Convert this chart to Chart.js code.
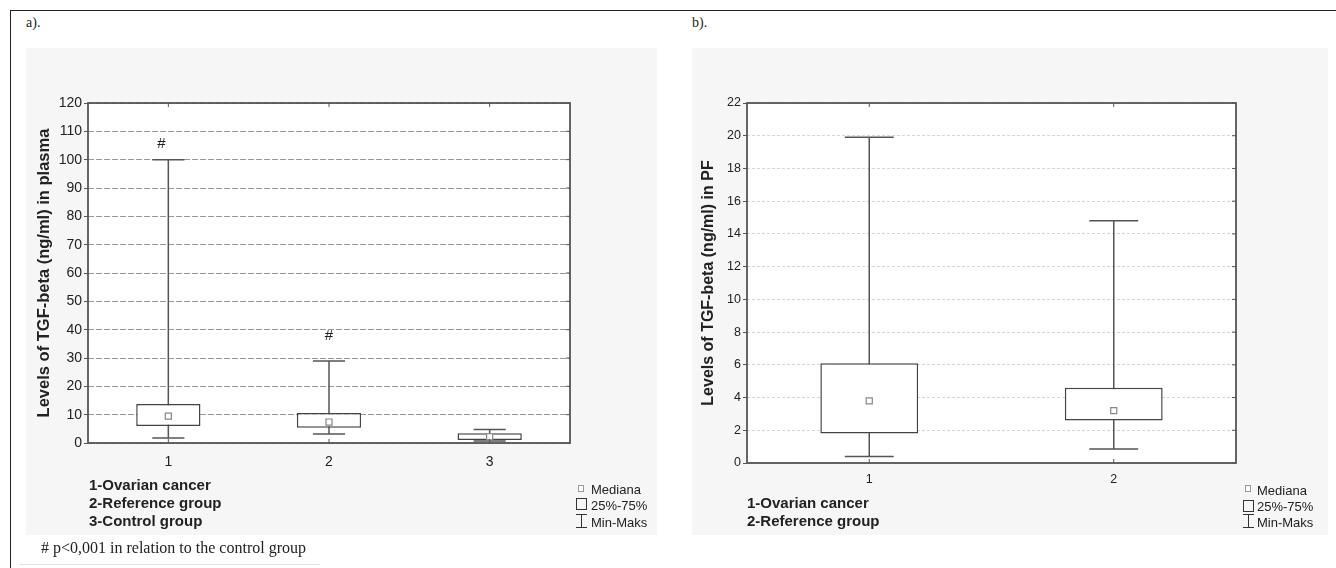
<!DOCTYPE html>
<html>
<head>
<meta charset="utf-8">
<script src="https://cdn.jsdelivr.net/npm/chart.js@4.4.1/dist/chart.umd.min.js"></script>
<style>
  body { margin: 0; width: 1336px; height: 568px; position: relative; overflow: hidden; background: #fff;
         font-family: "Liberation Sans", Arial, sans-serif; color: #222; }
  .abs { position: absolute; white-space: nowrap; }
  #frame { left: 10px; top: 10px; width: 1340px; height: 570px; border-top: 1.5px solid #222; border-left: 1.5px solid #222; }
  .panel { background: #f6f6f6; }
  .serif { font-family: "Liberation Serif", "Times New Roman", serif; }
  .grp { font-size: 15px; font-weight: bold; line-height: 15px; }
  .leg { font-size: 13px; line-height: 13px; }
  .med { width: 6px; height: 7px; box-sizing: border-box; border: 1px solid #999; background: #fff; }
  .iqr { width: 11px; height: 12px; box-sizing: border-box; border: 1.5px solid #333; }
  .rng { width: 11px; height: 14px; box-sizing: border-box; border-top: 1.5px solid #333; border-bottom: 1.5px solid #333; }
  .rng::after { content: ""; position: absolute; left: 4.75px; top: 0; width: 1.5px; height: 100%; background: #333; }
  canvas { position: absolute; }
</style>
</head>
<body>
<div id="frame" class="abs"></div>

<div class="abs serif" style="left:26px;top:16px;font-size:14px;line-height:14px">a).</div>
<div class="abs serif" style="left:692px;top:16px;font-size:14px;line-height:14px">b).</div>

<div class="abs panel" style="left:26px;top:48px;width:631px;height:487px"></div>
<div class="abs panel" style="left:692px;top:48px;width:636px;height:487px"></div>

<canvas id="chartA" width="631" height="487" style="left:26px;top:48px"></canvas>
<canvas id="chartB" width="636" height="487" style="left:692px;top:48px"></canvas>

<!-- group names, panel a -->
<div class="abs grp" style="left:89px;top:477px">1-Ovarian cancer</div>
<div class="abs grp" style="left:89px;top:495px">2-Reference group</div>
<div class="abs grp" style="left:89px;top:513px">3-Control group</div>
<!-- legend, panel a -->
<div class="abs med" style="left:578px;top:485px"></div>
<div class="abs iqr" style="left:576px;top:498px"></div>
<div class="abs rng" style="left:576px;top:514px"></div>
<div class="abs leg" style="left:591px;top:483px">Mediana</div>
<div class="abs leg" style="left:591px;top:499px">25%-75%</div>
<div class="abs leg" style="left:591px;top:516px">Min-Maks</div>

<!-- group names, panel b -->
<div class="abs grp" style="left:747px;top:495px">1-Ovarian cancer</div>
<div class="abs grp" style="left:747px;top:513px">2-Reference group</div>
<!-- legend, panel b -->
<div class="abs med" style="left:1245px;top:485px"></div>
<div class="abs iqr" style="left:1243px;top:500px"></div>
<div class="abs rng" style="left:1243px;top:514px"></div>
<div class="abs leg" style="left:1257px;top:484px">Mediana</div>
<div class="abs leg" style="left:1257px;top:500px">25%-75%</div>
<div class="abs leg" style="left:1257px;top:516px">Min-Maks</div>

<div class="abs serif" style="left:41px;top:540px;font-size:16px;line-height:16px"># p&lt;0,001 in relation to the control group</div>
<div class="abs" style="left:20px;top:564px;width:300px;height:1px;background:#e2e2e2"></div>

<script>
// panel a - plasma
const groupsA = ["1", "2", "3"];
const minA = [1.8, 3.2, 0.7];
const q1A = [6.0, 5.4, 1.1];
const medA = [9.5, 7.4, 2.2];
const q3A = [13.8, 10.6, 3.4];
const maxA = [100, 28.9, 4.8];
const marksA = ["#", "#", ""];

// panel b - peritoneal fluid
const groupsB = ["1", "2"];
const minB = [0.4, 0.85];
const q1B = [1.8, 2.6];
const medB = [3.8, 3.2];
const q3B = [6.1, 4.6];
const maxB = [19.9, 14.8];
const marksB = ["", ""];

const FONT = "'Liberation Sans', Arial, sans-serif";

// whiskers, plot background, frame and inner tick marks
const boxParts = {
  id: "boxParts",
  beforeDraw(chart) {
    const {ctx, chartArea: a} = chart;
    ctx.save();
    ctx.fillStyle = "#fff";
    ctx.fillRect(a.left, a.top, a.width, a.height);
    ctx.restore();
  },
  beforeDatasetsDraw(chart, args, opts) {
    const {ctx, chartArea: a, scales: {x, y}} = chart;
    const cap = a.width / opts.min.length * 0.2;
    ctx.save();
    ctx.strokeStyle = "#555";
    ctx.lineWidth = 1.5;
    opts.min.forEach((lo, i) => {
      const px = x.getPixelForValue(i);
      const top = y.getPixelForValue(opts.max[i]);
      const bot = y.getPixelForValue(lo);
      ctx.beginPath();
      ctx.moveTo(px, top); ctx.lineTo(px, bot);
      ctx.moveTo(px - cap / 2, top); ctx.lineTo(px + cap / 2, top);
      ctx.moveTo(px - cap / 2, bot); ctx.lineTo(px + cap / 2, bot);
      ctx.stroke();
      if (opts.marks[i]) {
        ctx.fillStyle = "#222";
        ctx.font = "15px " + FONT;
        ctx.textAlign = "center";
        ctx.textBaseline = "middle";
        ctx.fillText(opts.marks[i], px - (opts.markShift[i] || 0), top - opts.markLift[i]);
      }
    });
    ctx.restore();
  },
  afterDatasetsDraw(chart) {
    const {ctx, chartArea: a, scales: {x, y}} = chart;
    ctx.save();
    ctx.strokeStyle = "#555";
    ctx.lineWidth = 1;
    ctx.beginPath();
    x.ticks.forEach((t, i) => {
      const px = x.getPixelForTick(i);
      ctx.moveTo(px, a.top); ctx.lineTo(px, a.top + 4);
      ctx.moveTo(px, a.bottom); ctx.lineTo(px, a.bottom - 4);
    });
    y.ticks.forEach((t, i) => {
      const py = y.getPixelForTick(i);
      ctx.moveTo(a.right, py); ctx.lineTo(a.right - 4, py);
    });
    ctx.stroke();
    ctx.lineWidth = 1.8;
    ctx.strokeRect(a.left, a.top, a.width, a.height);
    ctx.restore();
  }
};

function boxChart(id, s) {
  return new Chart(document.getElementById(id), {
    data: {
      labels: s.labels,
      datasets: [
        {
          type: "line",
          data: s.med,
          showLine: false,
          pointStyle: "rect",
          pointRadius: 4.3,
          pointBackgroundColor: "#fff",
          pointBorderColor: "#888",
          pointBorderWidth: 1.2,
          order: 0
        },
        {
          type: "bar",
          data: s.q1.map((v, i) => [v, s.q3[i]]),
          backgroundColor: "#fff",
          borderColor: "#444",
          borderWidth: 1.5,
          borderSkipped: false,
          barPercentage: 0.4,
          categoryPercentage: 1,
          order: 1
        }
      ]
    },
    options: {
      responsive: false,
      animation: false,
      events: [],
      layout: {padding: s.pad},
      plugins: {
        legend: {display: false},
        tooltip: {enabled: false},
        boxParts: {min: s.min, max: s.max, marks: s.marks, markLift: s.markLift, markShift: s.markShift}
      },
      scales: {
        x: {
          type: "category",
          offset: true,
          grid: {display: false},
          border: {display: false},
          ticks: {color: "#222", font: {family: FONT, size: s.tickSize}, padding: s.xPad},
          afterFit(sc) { sc.height = s.xHeight; }
        },
        y: {
          min: 0,
          max: s.yMax,
          ticks: {stepSize: s.yStep, color: "#222", font: {family: FONT, size: s.tickSize}, padding: 2},
          grid: {color: s.gridColor, lineWidth: 1, tickColor: "#555", tickLength: 4},
          border: {display: false, dash: s.gridDash},
          title: {
            display: true,
            text: s.title,
            color: "#222",
            font: {family: FONT, size: s.titleSize, weight: "bold"},
            padding: {top: s.titlePad, bottom: 0}
          },
          afterFit(sc) { sc.width = s.yWidth; }
        }
      }
    },
    plugins: [boxParts]
  });
}

boxChart("chartA", {
  labels: groupsA, min: minA, q1: q1A, med: medA, q3: q3A, max: maxA, marks: marksA,
  markLift: [16, 25, 0], markShift: [7, 0, 0],
  yMax: 120, yStep: 10, tickSize: 14, xPad: 3, xHeight: 30, yWidth: 62,
  pad: {left: 0, right: 87, top: 55, bottom: 62},
  gridColor: "#999", gridDash: [6, 2],
  title: "Levels of TGF-beta (ng/ml) in plasma", titleSize: 16.5, titlePad: 9
});

boxChart("chartB", {
  labels: groupsB, min: minB, q1: q1B, med: medB, q3: q3B, max: maxB, marks: marksB,
  markLift: [0, 0], markShift: [0, 0],
  yMax: 22, yStep: 2, tickSize: 12.5, xPad: 1, xHeight: 25, yWidth: 55,
  pad: {left: 0, right: 92, top: 55, bottom: 47},
  gridColor: "#d6d6d6", gridDash: [3, 2],
  title: "Levels of TGF-beta (ng/ml) in PF", titleSize: 16, titlePad: 7
});
</script>
</body>
</html>
